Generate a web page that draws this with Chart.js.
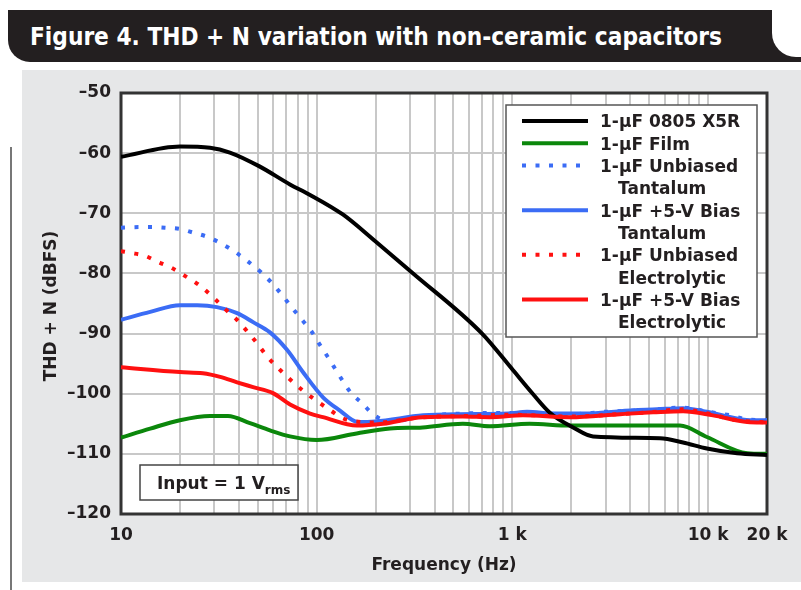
<!DOCTYPE html>
<html><head><meta charset="utf-8">
<script src="https://cdn.jsdelivr.net/npm/chart.js@4.4.1/dist/chart.umd.min.js"></script>
<style>
html,body{margin:0;padding:0;background:#fff;width:801px;height:590px;overflow:hidden;}
#bar{position:absolute;left:8px;top:10px;width:793px;height:52px;background:#231f20;border-bottom-left-radius:22px;}
#notch{position:absolute;left:772px;top:10px;width:29px;height:47px;background:#fff;border-bottom-left-radius:24px;}
#title{position:absolute;left:30px;top:25px;color:#fff;font-weight:bold;font-size:24px;line-height:24px;font-family:'DejaVu Sans Condensed','DejaVu Sans',sans-serif;white-space:nowrap;transform-origin:0 0;display:inline-block;}
#vline{position:absolute;left:10px;top:147px;width:2px;height:443px;background:#777;}
#wrap{position:absolute;left:0;top:0;width:801px;height:590px;}
</style>
</head><body>
<div id="bar"></div><div id="notch"></div>
<div id="title">Figure 4. THD + N variation with non-ceramic capacitors</div>
<div id="vline"></div>
<div id="wrap"><canvas id="c" width="801" height="590"></canvas></div>
<script>
// ---- data ----
const xTickValues = [10,20,30,40,50,60,70,80,90,100,200,300,400,500,600,700,800,900,1000,2000,3000,4000,5000,6000,7000,8000,9000,10000,20000];
const xMajorTicks = [10,100,1000,10000,20000];
const xMajorLabels = ['10','100','1 k','10 k','20 k'];
const yMin = -120, yMax = -50, yStep = 10;

const seriesNames = ['1-µF 0805 X5R','1-µF Film','1-µF Unbiased Tantalum','1-µF +5-V Bias Tantalum','1-µF Unbiased Electrolytic','1-µF +5-V Bias Electrolytic'];
const legendLines = [['1-µF 0805 X5R'],['1-µF Film'],['1-µF Unbiased','Tantalum'],['1-µF +5-V Bias','Tantalum'],['1-µF Unbiased','Electrolytic'],['1-µF +5-V Bias','Electrolytic']];

const x5rFreq = [10,20,28.5,36,51,73,92,136,200,311,700,1008,1270,1559,2042,2583,5675,7447,9860,14070,20000];
const x5rDb   = [-60.6,-58.9,-59.1,-59.9,-62.2,-65.2,-66.9,-70.2,-74.7,-80.0,-90.0,-96.1,-100.0,-103.2,-105.6,-107.1,-107.4,-108.1,-109.1,-109.9,-110.2];

const filmFreq = [10,14.1,20,28.5,35.2,45.6,57.7,73,100,160,237,348,558,765,1223,1968,7185,9860,15860,20000];
const filmDb   = [-107.3,-105.8,-104.4,-103.7,-103.7,-104.9,-106.1,-107.1,-107.7,-106.6,-105.8,-105.6,-105.0,-105.4,-105.0,-105.3,-105.3,-107.2,-109.9,-110.0];

const tantUnbFreq = [10,12.4,14.6,17,20,23.3,27.5,32,37.8,44.1,51.9,59.8,67.3,75.6,85.1,94.8,104,114,124,136,150,171,192,223,256,350,560,1000,2000,3000,5000,7400,10000,13000,16000,20000];
const tantUnbDb   = [-72.4,-72.3,-72.3,-72.4,-72.6,-73.2,-73.9,-74.9,-76.3,-77.9,-79.8,-81.8,-83.8,-85.9,-87.9,-89.8,-91.9,-93.9,-95.8,-97.9,-99.9,-101.6,-103.3,-104.4,-104.5,-103.7,-103.3,-103.2,-103.4,-103.0,-102.7,-102.3,-103.0,-103.6,-104.3,-104.4];

const tantBiasFreq = [10,14.1,20,24.5,30.9,39.2,47.3,57.7,70.5,85,107.7,131.5,162,200,350,530,950,1188,1650,2404,3548,5490,7447,9860,11920,16370,20000];
const tantBiasDb   = [-87.7,-86.4,-85.3,-85.3,-85.6,-86.6,-88.1,-89.8,-92.7,-96.4,-100.6,-102.8,-104.7,-104.6,-103.6,-103.4,-103.3,-103.0,-103.3,-103.3,-102.9,-102.6,-102.4,-103.0,-103.6,-104.4,-104.4];

const electUnbFreq = [10,11.3,13.3,15.5,18.2,21.2,25,29.2,34,39.1,44.6,50.1,55.8,63.4,74.1,85.1,100,118,136,167,200,350,600,1000,2000,3500,5000,7400,10000,14000,20000];
const electUnbDb   = [-76.3,-76.6,-77.1,-78.1,-79.1,-80.4,-81.9,-83.8,-85.9,-87.7,-89.8,-91.8,-93.8,-95.7,-97.8,-99.5,-101.2,-102.8,-104.1,-104.7,-104.8,-103.9,-103.7,-103.5,-103.8,-103.4,-103.1,-102.6,-103.3,-104.4,-104.8];

const electBiasFreq = [10,20,26.2,32.1,39.2,47.3,59.8,73.1,92.5,107.7,160.6,218,348,558,765,1132,1968,3548,5227,7447,10590,15860,20000];
const electBiasDb   = [-95.6,-96.4,-96.6,-97.2,-98.1,-98.9,-99.9,-101.8,-103.3,-103.9,-105.3,-105.0,-103.9,-103.8,-103.9,-103.6,-103.9,-103.4,-103.1,-102.9,-103.6,-104.7,-104.8];

const inputNoteMain = 'Input = 1 V';
const inputNoteSub = 'rms';
const xTitle = 'Frequency (Hz)';
const yTitle = 'THD + N (dBFS)';

// ---- styling ----
const TXT = '#231f20';
const FONT = "'DejaVu Sans', sans-serif";
const colors = ['#000000','#0b870b','#3b6cf5','#3b6cf5','#ff1010','#ff1010'];
const dashes = [[],[],[4,9.5],[],[4,9.5],[]];
const freqs = [x5rFreq,filmFreq,tantUnbFreq,tantBiasFreq,electUnbFreq,electBiasFreq];
const dbs = [x5rDb,filmDb,tantUnbDb,tantBiasDb,electUnbDb,electBiasDb];
const drawOrder = [2,5,4,3,1,0]; // lower = on top

function pts(f,d){return f.map((v,i)=>({x:v,y:d[i]}));}

const datasets = seriesNames.map((n,i)=>({
  label:n, data:pts(freqs[i],dbs[i]), borderColor:colors[i], backgroundColor:colors[i],
  borderWidth:4, borderDash:dashes[i], borderCapStyle:'butt', pointRadius:0,
  cubicInterpolationMode:'monotone', fill:false, order:drawOrder[i]
}));

const deco = {
  id:'deco',
  beforeDraw(chart){
    const {ctx, chartArea:a} = chart;
    ctx.save();
    ctx.fillStyle='#e6e7e8';
    ctx.fillRect(22,70,779,512);
    ctx.fillStyle='#ffffff';
    ctx.fillRect(a.left,a.top,a.right-a.left,a.bottom-a.top);
    ctx.restore();
  },
  beforeDatasetsDraw(chart){
    const {ctx, chartArea:a} = chart;
    ctx.save();
    ctx.strokeStyle='#333';
    ctx.lineWidth=3;
    ctx.strokeRect(a.left,a.top,a.right-a.left,a.bottom-a.top);
    ctx.restore();
  },
  afterDatasetsDraw(chart){
    const {ctx} = chart;
    ctx.save();
    // legend
    ctx.fillStyle='#fff'; ctx.fillRect(506,105,251,232);
    ctx.strokeStyle='#555'; ctx.lineWidth=1.5; ctx.strokeRect(506,105,251,232);
    ctx.font='bold 17px '+FONT; ctx.textBaseline='middle'; ctx.textAlign='left';
    let ln=0;
    legendLines.forEach((lines,i)=>{
      const ty = 123 + ln*22.3;
      ctx.strokeStyle=colors[i]; ctx.lineWidth=4; ctx.lineCap='butt';
      ctx.setLineDash(dashes[i]);
      ctx.beginPath(); ctx.moveTo(522,ty-2); ctx.lineTo(588,ty-2); ctx.stroke();
      ctx.setLineDash([]);
      ctx.fillStyle=TXT;
      lines.forEach((t,j)=>{ ctx.fillText(t, j===0?600:618, ty+j*22.3); });
      ln += lines.length;
    });
    // input note
    ctx.fillStyle='#fff'; ctx.fillRect(140,465,158,35);
    ctx.strokeStyle='#444'; ctx.lineWidth=1.5; ctx.strokeRect(140,465,158,35);
    ctx.fillStyle=TXT; ctx.textBaseline='alphabetic';
    ctx.font='bold 17px '+FONT;
    ctx.fillText(inputNoteMain,157,489);
    const w = ctx.measureText(inputNoteMain).width;
    ctx.font='bold 12px '+FONT;
    ctx.fillText(inputNoteSub,157+w,494);
    ctx.restore();
  },
  afterDraw(chart){
    const {ctx, chartArea:a} = chart;
    ctx.save();
    ctx.fillStyle=TXT; ctx.font='bold 17px '+FONT;
    ctx.textAlign='center'; ctx.textBaseline='middle';
    ctx.fillText(xTitle,(a.left+a.right)/2,566);
    ctx.translate(52,306); ctx.rotate(-Math.PI/2);
    ctx.fillText(yTitle,0,0);
    ctx.restore();
  }
};

new Chart(document.getElementById('c'),{
  type:'line',
  data:{datasets},
  options:{
    responsive:false, animation:false, devicePixelRatio:1,
    layout:{padding:{left:0,top:93,right:34,bottom:0}},
    plugins:{legend:{display:false},tooltip:{enabled:false},title:{display:false}},
    scales:{
      x:{type:'logarithmic',min:10,max:20000,
        afterBuildTicks(s){ s.ticks = xTickValues.map(v=>({value:v})); },
        afterFit(s){ s.height = 76; },
        grid:{color:'#c8c8c8',lineWidth:2,drawTicks:false},
        border:{display:false},
        ticks:{autoSkip:false,maxRotation:0,padding:11,color:TXT,font:{family:FONT,size:17,weight:'bold'},
          callback(v){ const k = xMajorTicks.indexOf(v); return k>=0 ? xMajorLabels[k] : ''; }}
      },
      y:{min:yMin,max:yMax,
        afterFit(s){ s.width = 121; },
        grid:{color:'#c8c8c8',lineWidth:2,drawTicks:false},
        border:{display:false},
        ticks:{stepSize:yStep,padding:10,color:TXT,font:{family:FONT,size:17,weight:'bold'},
          callback(v){ return (v<0?'\u2013':'')+Math.abs(v); }}
      }
    }
  },
  plugins:[deco]
});

// fit title width
const t = document.getElementById('title');
const tw = t.getBoundingClientRect().width;
t.style.transform = 'scaleX(' + (692/tw) + ')';
</script>
</body></html>
